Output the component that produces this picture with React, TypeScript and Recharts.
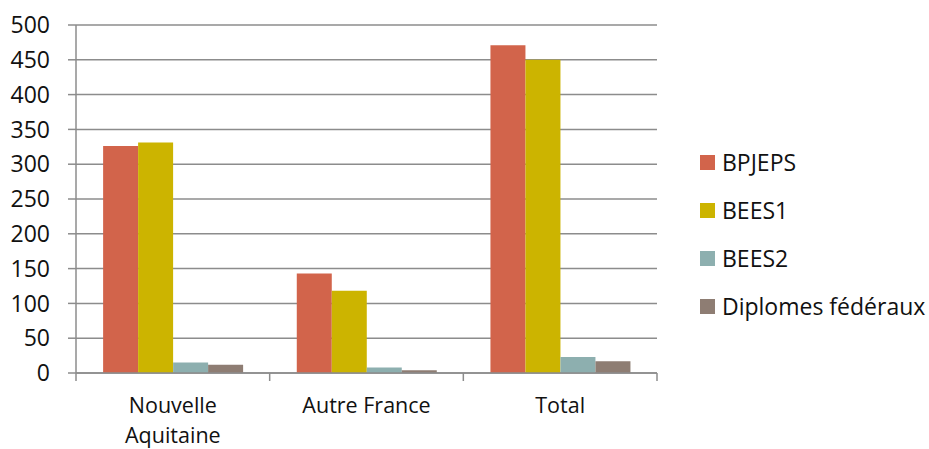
import { BarChart, Bar, XAxis, YAxis, CartesianGrid, Legend } from "recharts";

const categories = ["Nouvelle Aquitaine", "Autre France", "Total"];
const bpjeps = [326, 143, 471];
const bees1 = [331, 118, 450];
const bees2 = [15, 8, 23];
const diplomes = [12, 4, 17];
const yTicks = [0, 50, 100, 150, 200, 250, 300, 350, 400, 450, 500];

const series = [
  { key: "bpjeps", name: "BPJEPS", color: "#D2644B" },
  { key: "bees1", name: "BEES1", color: "#CCB400" },
  { key: "bees2", name: "BEES2", color: "#8DAFAF" },
  { key: "diplomes", name: "Diplomes fédéraux", color: "#8E7D73" },
];

const data = categories.map((c, i) => ({
  category: c,
  bpjeps: bpjeps[i],
  bees1: bees1[i],
  bees2: bees2[i],
  diplomes: diplomes[i],
}));

const FONT = "'Open Sans', sans-serif";
const FS = 23;
const AXIS = "#8c8c8c";
const HALF_BAND = 581 / 3 / 2;

function CategoryTick(props: any) {
  const { x, y, payload, index } = props;
  const label: string = payload.value;
  // long labels wrap onto two lines, like the original
  const lines = label.length > 14 ? label.split(" ") : [label];
  return (
    <g>
      <line x1={x - HALF_BAND} x2={x - HALF_BAND} y1={373} y2={381} stroke={AXIS} strokeWidth={1.5} />
      {index === categories.length - 1 && (
        <line x1={x + HALF_BAND} x2={x + HALF_BAND} y1={373} y2={381} stroke={AXIS} strokeWidth={1.5} />
      )}
      <text x={x} y={y + 32} textAnchor="middle" fontSize={21.5} fontFamily={FONT} fill="#111">
        {lines.map((l, i) => (
          <tspan key={i} x={x} dy={i === 0 ? 0 : 29.5}>
            {l}
          </tspan>
        ))}
      </text>
    </g>
  );
}

function renderLegend() {
  return (
    <div style={{ fontFamily: FONT, fontSize: FS, color: "#111" }}>
      {series.map((s) => (
        <div key={s.key} style={{ display: "flex", alignItems: "center", height: 48 }}>
          <span style={{ width: 15, height: 15, background: s.color, marginRight: 7, display: "inline-block" }} />
          <span>{s.name}</span>
        </div>
      ))}
    </div>
  );
}

export default function App() {
  return (
    <div style={{ position: "absolute", left: 0, top: 0, background: "#fff" }}>
      <BarChart
        width={929}
        height={449}
        data={data}
        margin={{ top: 25, right: 43, bottom: 0, left: 0 }}
        barCategoryGap="14%"
        barGap={0}
      >
        <CartesianGrid vertical={false} stroke={AXIS} strokeWidth={1.5} />
        <XAxis
          dataKey="category"
          height={76}
          stroke={AXIS}
          strokeWidth={1.5}
          tickLine={false}
          interval={0}
          tick={<CategoryTick />}
        />
        <YAxis
          width={76}
          domain={[0, 500]}
          ticks={yTicks}
          interval={0}
          stroke={AXIS}
          strokeWidth={1.5}
          tickSize={8}
          tickMargin={18}
          tick={{ fontSize: FS, fontFamily: FONT, fill: "#111" }}
        />
        <Legend
          layout="vertical"
          align="right"
          verticalAlign="top"
          content={renderLegend}
          wrapperStyle={{ left: 700, top: 138, width: 229 }}
        />
        {series.map((s) => (
          <Bar key={s.key} dataKey={s.key} name={s.name} fill={s.color} isAnimationActive={false} />
        ))}
      </BarChart>
    </div>
  );
}
